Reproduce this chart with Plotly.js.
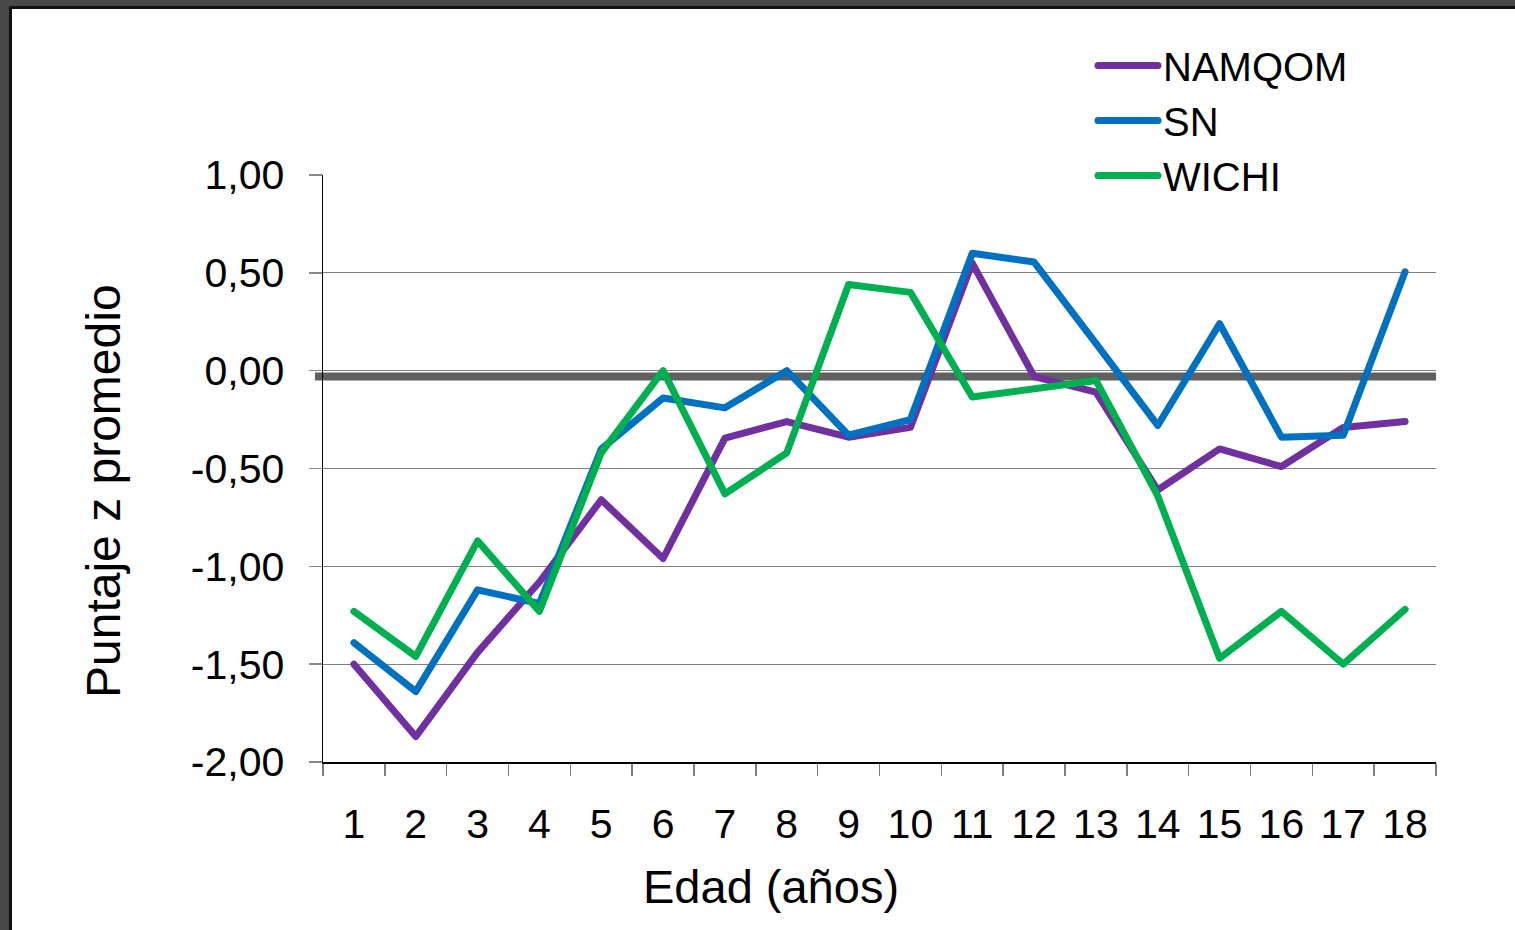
<!DOCTYPE html>
<html>
<head>
<meta charset="utf-8">
<script src="https://cdn.plot.ly/plotly-3.0.1.min.js"></script>
<style>
  html, body { margin: 0; padding: 0; width: 1515px; height: 930px; overflow: hidden; background: #474747; }
  #frame { position: absolute; left: 9px; top: 6px; border-left: 3px solid #111; border-top: 3px solid #111; background: #fff; }
  #chart { width: 1503px; height: 921px; }
  .scatterlayer .js-line, .legendlines path { stroke-linecap: round; stroke-linejoin: round; }
</style>
</head>
<body>
<div id="frame"><div id="chart"></div></div>
<script>
// ---- data ----
const ages = ["1","2","3","4","5","6","7","8","9","10","11","12","13","14","15","16","17","18"];
const namqom = [-1.50,-1.87,-1.44,-1.08,-0.66,-0.96,-0.345,-0.26,-0.34,-0.29,0.55,-0.03,-0.11,-0.61,-0.40,-0.49,-0.29,-0.26];
const sn     = [-1.39,-1.64,-1.12,-1.19,-0.40,-0.14,-0.19,0.00,-0.33,-0.25,0.60,0.555,0.14,-0.28,0.24,-0.34,-0.33,0.505];
const wichi  = [-1.23,-1.46,-0.87,-1.23,-0.42,0.00,-0.63,-0.42,0.44,0.40,-0.135,-0.095,-0.05,-0.64,-1.47,-1.23,-1.50,-1.22];
const yTickVals = [1, 0.5, 0, -0.5, -1, -1.5, -2];
const yTickText = ["1,00","0,50","0,00","-0,50","-1,00","-1,50","-2,00"];
const referenceLine = -0.03;
const seriesNames = ["NAMQOM","SN","WICHI"];
const xTitle = "Edad (años)";
const yTitle = "Puntaje z promedio";

const FONT = "Liberation Sans, Arial, sans-serif";
const colors = ["#7030A0","#0070C0","#00B050"];
const values = [namqom, sn, wichi];

const traces = values.map((v, i) => ({
  type: "scatter", mode: "lines", x: ages, y: v, name: seriesNames[i],
  line: { color: colors[i], width: 7 }, hoverinfo: "x+y+name"
}));

const plotW = 1113, plotH = 587;

const layout = {
  width: 1503, height: 921,
  margin: { l: 311, r: 79, t: 166, b: 168 },
  paper_bgcolor: "#ffffff", plot_bgcolor: "#ffffff",
  font: { family: FONT, color: "#000000" },
  showlegend: true,
  legend: {
    x: (1093 - 323) / plotW, xanchor: "left",
    y: 1 + (175 - 33) / plotH, yanchor: "top",
    font: { family: FONT, size: 40, color: "#000" },
    bgcolor: "rgba(0,0,0,0)", borderwidth: 0,
    itemwidth: 60, tracegroupgap: 0
  },
  xaxis: {
    type: "category", range: [-0.5, 17.5],
    showgrid: false, zeroline: false,
    showline: true, linecolor: "#000", linewidth: 1.5,
    ticks: "outside", tickson: "boundaries", ticklen: 12, tickcolor: "#7f7f7f", tickwidth: 1.5,
    tickfont: { family: FONT, size: 41, color: "#000" },
    ticklabelstandoff: 25,
    fixedrange: true
  },
  yaxis: {
    range: [-2, 1],
    tickvals: yTickVals, ticktext: yTickText,
    showgrid: true, gridcolor: "#808080", gridwidth: 1.3,
    zeroline: false,
    showline: true, linecolor: "#000", linewidth: 1.5,
    ticks: "outside", ticklen: 13, tickcolor: "#8a8a8a", tickwidth: 1.5,
    tickfont: { family: FONT, size: 41, color: "#000" },
    ticklabelstandoff: 16,
    fixedrange: true
  },
  shapes: [
    { type: "line", xref: "paper", yref: "y", x0: (315 - 323) / plotW, x1: 1, y0: referenceLine, y1: referenceLine,
      line: { color: "#606060", width: 8 }, layer: "between" },
    { type: "rect", xref: "paper", yref: "paper", x0: (1004 - 323) / plotW, x1: 1.02, y0: 1 - 4 / plotH, y1: 1 + 4 / plotH,
      fillcolor: "#ffffff", line: { width: 0 }, layer: "above" }
  ],
  annotations: [
    { text: xTitle, xref: "paper", yref: "paper", x: (771 - 323) / plotW, y: 0,
      xanchor: "center", yanchor: "middle", yshift: -124, showarrow: false,
      font: { family: FONT, size: 47, color: "#000" } },
    { text: yTitle, xref: "paper", yref: "paper", x: 0, y: (762 - 491) / plotH,
      xanchor: "center", yanchor: "middle", xshift: -220, textangle: -90, showarrow: false,
      font: { family: FONT, size: 48, color: "#000" } }
  ]
};

Plotly.newPlot("chart", traces, layout, { displayModeBar: false, staticPlot: true });
</script>
</body>
</html>
